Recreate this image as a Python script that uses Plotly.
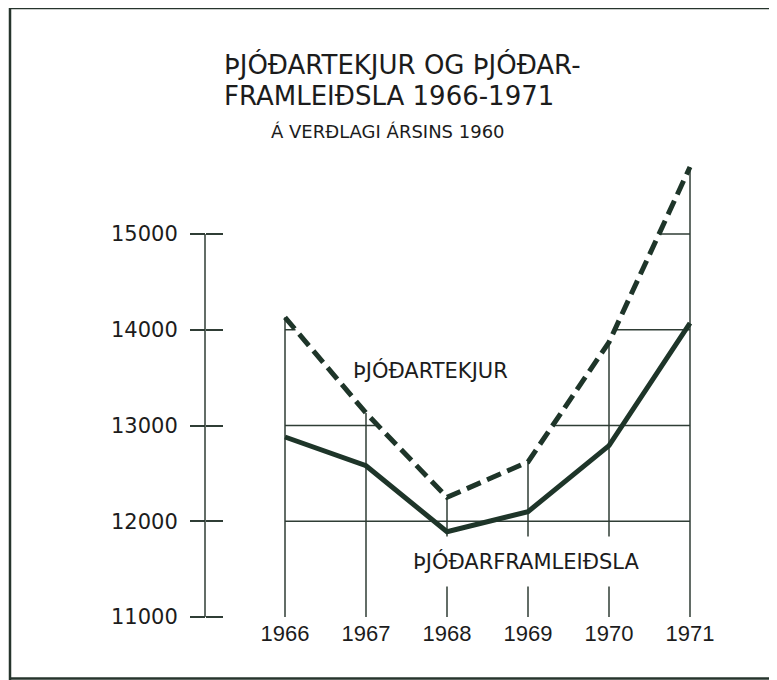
import plotly.graph_objects as go

# Gögn lesin af myndinni (milljónir kr., verðlag 1960)
AR = [1966, 1967, 1968, 1969, 1970, 1971]
THJODARTEKJUR = [14130, 13130, 12250, 12620, 13870, 15700]
THJODARFRAMLEIDSLA = [12880, 12580, 11890, 12100, 12790, 14070]

Y_TICKS = [11000, 12000, 13000, 14000, 15000]
Y_TICK_LABELS = ['11000', '12000', '13000', '14000', '15000']
GRID_LEVELS = [12000, 13000, 14000, 15000]

TITILL_1 = 'ÞJÓÐARTEKJUR OG ÞJÓÐAR-'
TITILL_2 = 'FRAMLEIÐSLA 1966-1971'
UNDIRTITILL = 'Á VERÐLAGI ÁRSINS 1960'
MERKI_TEKJUR = 'ÞJÓÐARTEKJUR'
MERKI_FRAML = 'ÞJÓÐARFRAMLEIÐSLA'

# =============================================================================
# Útlit
# =============================================================================

GLUGGI_W, GLUGGI_H = 777, 680
BODY = 8                               # sjálfgefin spássía á <body>
W, H = GLUGGI_W - BODY, GLUGGI_H - BODY

# staðsetningar í pixlum á fyrirmyndinni
PX_FYRSTA_AR, PX_PER_AR = 285, 81      # 1966 í x=285, 81 px á ár
PY_EFST, PY_PER_1000 = 234, 95.75      # 15000 í y=234
AX_X_PX = 205

LINA = '#1e3529'
GRID = '#2f3d35'
TEXTI = '#1c1c1c'
FONT = 'DejaVu Sans'

y_min, y_max = Y_TICKS[0], Y_TICKS[-1]
px_ar0 = PX_FYRSTA_AR - BODY
py_efst = PY_EFST - BODY
x_range = [AR[0] - px_ar0 / PX_PER_AR, AR[0] + (W - px_ar0) / PX_PER_AR]
y_range = [y_max - (H - py_efst) / PY_PER_1000 * 1000,
           y_max + py_efst / PY_PER_1000 * 1000]


def px(x, y):
    """Pixlar á fyrirmynd -> paper hnit."""
    return (x - BODY) / W, 1 - (y - BODY) / H


def grid_segments(xs, ys, level):
    """Hlutar láréttrar línu sem liggja undir efri ferlinum."""
    hlutar = []
    for x0, y0, x1, y1 in zip(xs, ys, xs[1:], ys[1:]):
        if y0 <= level and y1 <= level:
            continue
        a, b = x0, x1
        if y0 < level:
            a = x0 + (level - y0) / (y1 - y0) * (x1 - x0)
        if y1 < level:
            b = x0 + (level - y0) / (y1 - y0) * (x1 - x0)
        hlutar.append((a, b))
    return hlutar


fig = go.Figure()

# Láréttar línur, aðeins undir efri ferlinum
for level in GRID_LEVELS:
    for a, b in grid_segments(AR, THJODARTEKJUR, level):
        fig.add_trace(go.Scatter(
            x=[a, b], y=[level, level], mode='lines',
            line=dict(color=GRID, width=1.5),
            hoverinfo='skip', showlegend=False,
        ))

# Lóðréttar línur við hvert ár
vx, vy = [], []
for ar, v in zip(AR, THJODARTEKJUR):
    vx += [ar, ar, None]
    vy += [v, y_min, None]
fig.add_trace(go.Scatter(
    x=vx, y=vy, mode='lines',
    line=dict(color=GRID, width=1.5),
    hoverinfo='skip', showlegend=False,
))

# Ferlarnir
fig.add_trace(go.Scatter(
    x=AR, y=THJODARFRAMLEIDSLA, mode='lines', name=MERKI_FRAML,
    line=dict(color=LINA, width=5),
    hovertemplate='%{x}: %{y}<extra>' + MERKI_FRAML + '</extra>',
))
fig.add_trace(go.Scatter(
    x=AR, y=THJODARTEKJUR, mode='lines', name=MERKI_TEKJUR,
    line=dict(color=LINA, width=5, dash='15px,7px'),
    hovertemplate='%{x}: %{y}<extra>' + MERKI_TEKJUR + '</extra>',
))

# Ósýnileg spor fyrir innri merkin á y-ás
fig.add_trace(go.Scatter(
    x=[AR[0]], y=[y_min], yaxis='y2', mode='markers',
    marker=dict(opacity=0), hoverinfo='skip', showlegend=False,
))


# Titlar og merki
def texti(t, cx, cy, size, anchor='center', **kw):
    x, y = px(cx, cy)
    fig.add_annotation(
        text=t, x=x, y=y, xref='paper', yref='paper',
        xanchor=anchor, yanchor='middle', showarrow=False,
        font=dict(family=FONT, size=size, color=TEXTI), **kw,
    )


texti(TITILL_1, 222, 64, 26, anchor='left')
texti(TITILL_2, 222, 96, 26, anchor='left')
texti(UNDIRTITILL, 388, 131, 18)
texti(MERKI_TEKJUR, 430, 370, 21)
texti(MERKI_FRAML, 526, 561, 21, bgcolor='white', borderpad=12)

# Rammi og y-ás
ax_x = (AX_X_PX - BODY) / W
fig.add_shape(type='line', xref='paper', yref='y', x0=ax_x, x1=ax_x,
              y0=y_min, y1=y_max, line=dict(color=GRID, width=1.5))
for (x0, y0), (x1, y1) in [
    (px(10, 8), px(10, GLUGGI_H)),
    (px(10, 8), px(GLUGGI_W, 8)),
    (px(10, GLUGGI_H - 1.5), px(GLUGGI_W, GLUGGI_H - 1.5)),
]:
    fig.add_shape(type='line', xref='paper', yref='paper',
                  x0=x0, y0=y0, x1=x1, y1=y1,
                  line=dict(color='#26342c', width=2.5))

fig.update_layout(
    width=W, height=H,
    margin=dict(l=0, r=0, t=0, b=0),
    paper_bgcolor='white', plot_bgcolor='white',
    showlegend=False,
    xaxis=dict(
        range=x_range, tickvals=AR, ticks='', showgrid=False,
        zeroline=False, showline=False, anchor='free',
        position=(y_min - y_range[0]) / (y_range[1] - y_range[0]),
        tickfont=dict(family='Liberation Sans Narrow, Liberation Sans', size=22, color=TEXTI),
        ticklabelstandoff=1, fixedrange=True,
    ),
    yaxis=dict(
        range=y_range, tickvals=Y_TICKS, ticktext=Y_TICK_LABELS,
        ticks='outside', ticklen=15, tickwidth=1.5, tickcolor=GRID,
        showgrid=False, zeroline=False, showline=False,
        anchor='free', position=ax_x, side='left',
        tickfont=dict(family=FONT, size=21, color=TEXTI),
        ticklabelstandoff=8, fixedrange=True,
    ),
    yaxis2=dict(
        range=y_range, overlaying='y', tickvals=Y_TICKS,
        ticks='inside', ticklen=17, tickwidth=1.5, tickcolor=GRID,
        showticklabels=False, showgrid=False, zeroline=False,
        showline=False, anchor='free', position=ax_x, side='left',
        fixedrange=True,
    ),
)

fig.write_html("out.html")
